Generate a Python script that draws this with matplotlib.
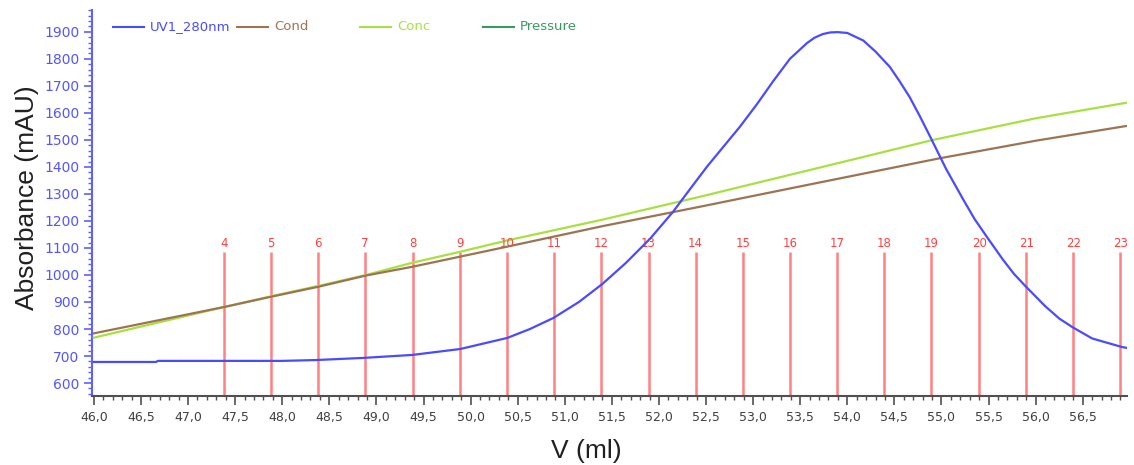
import matplotlib
matplotlib.use("Agg")
import matplotlib.pyplot as plt
from matplotlib.lines import Line2D
from matplotlib.ticker import MultipleLocator, FuncFormatter

# UV trace (ml, mAU)
uv_ml = [46.0, 46.66, 46.68, 47.5, 48.0, 48.35, 48.86, 49.38, 49.89, 50.39, 50.63,
         50.88, 51.15, 51.4, 51.65, 51.91, 52.15, 52.33, 52.51, 52.86, 53.04,
         53.21, 53.39, 53.57, 53.65, 53.74, 53.82, 53.9, 54.0, 54.17, 54.3,
         54.45, 54.55, 54.66, 54.77, 54.88, 55.05, 55.23, 55.35, 55.48, 55.65,
         55.77, 55.88, 56.1, 56.25, 56.39, 56.6, 56.8, 56.92, 56.97]
uv_mau = [678, 678, 682, 682, 682, 685, 693, 704, 726, 767, 800,
          841, 900, 967, 1045, 1136, 1234, 1318, 1401, 1549, 1632,
          1716, 1800, 1858, 1878, 1892, 1898, 1899, 1896, 1868, 1827,
          1771, 1720, 1660, 1588, 1512, 1392, 1280, 1208, 1142, 1058,
          1004, 963, 885, 839, 807, 765, 745, 733, 730]

cond_ml = [46.0, 47.39, 47.89, 48.39, 48.89, 49.39, 49.89, 50.39, 51.39, 52.44,
           53.5, 54.98, 56.0, 56.97]
cond_val = [784, 882, 920, 957, 998, 1031, 1068, 1105, 1180, 1253,
            1328, 1432, 1497, 1552]

conc_ml = [46.0, 47.39, 47.89, 48.39, 48.89, 49.39, 49.89, 50.39, 51.39, 52.44,
           53.5, 54.91, 56.0, 56.97]
conc_val = [768, 882, 922, 960, 1000, 1046, 1086, 1128, 1204, 1290,
            1380, 1500, 1580, 1638]

# fraction marks
frac_num = list(range(4, 24))
frac_ml = [47.38, 47.88, 48.38, 48.88, 49.39, 49.89, 50.39, 50.89, 51.39, 51.89,
           52.39, 52.89, 53.39, 53.89, 54.39, 54.89, 55.40, 55.90, 56.40, 56.90]

legend_names = ["UV1_280nm", "Cond", "Conc", "Pressure"]
legend_colors = ["#4a4aff", "#9c7452", "#a8e040", "#3a9a5e"]

fig = plt.figure(figsize=(11.34, 4.65), dpi=100)
ax = fig.add_axes([92 / 1134, 1 - 396 / 465, (1127 - 92) / 1134, (396 - 10) / 465])

ax.plot(conc_ml, conc_val, color=legend_colors[2], lw=1.6, zorder=3)
ax.plot(cond_ml, cond_val, color=legend_colors[1], lw=1.6, zorder=4)
ax.plot(uv_ml, uv_mau, color=legend_colors[0], lw=1.6, zorder=5)

ymin, ymax = 552, 1981
ax.vlines(frac_ml, ymin, 1085, color="#ff8080", lw=1.8, zorder=2)
for n, x in zip(frac_num, frac_ml):
    ax.text(x, 1115, str(n), color="#ff4040", fontsize=8.5, ha="center", va="center")

ax.set_xlim(45.98, 56.97)
ax.set_ylim(ymin, ymax)

ax.spines["top"].set_visible(False)
ax.spines["right"].set_visible(False)
ax.spines["left"].set_color("#6060ff")
ax.spines["left"].set_linewidth(1.5)
ax.spines["bottom"].set_color("#505050")
ax.spines["bottom"].set_linewidth(1.5)

ax.yaxis.set_major_locator(MultipleLocator(100))
ax.yaxis.set_minor_locator(MultipleLocator(20))
ax.set_yticks(range(600, 2000, 100))
ax.xaxis.set_major_locator(MultipleLocator(0.5))
ax.xaxis.set_minor_locator(MultipleLocator(0.1))
ax.xaxis.set_major_formatter(FuncFormatter(lambda v, p: f"{v:.1f}".replace(".", ",")))

ax.tick_params(axis="y", which="major", length=6, width=1.2, color="#6060ff",
               labelcolor="#5555ff", labelsize=10, pad=3)
ax.tick_params(axis="y", which="minor", length=3, width=1, color="#6060ff")
ax.tick_params(axis="x", which="major", length=6.5, width=1.2, color="#505050",
               labelcolor="#404040", labelsize=9, pad=4)
ax.tick_params(axis="x", which="minor", length=3, width=1, color="#505050")

ax.set_ylabel("Absorbance (mAU)", fontsize=19, family="Liberation Sans", color="#202020")
ax.yaxis.set_label_coords(-0.051, 0.514)
ax.set_xlabel("V (ml)", fontsize=19, family="Liberation Sans", color="#202020")
ax.xaxis.set_label_coords(0.478, -0.112)

# legend strip across the top
leg_x = [113, 237, 360, 483]
for x0, name, c in zip(leg_x, legend_names, legend_colors):
    y = 1 - 27 / 465
    fig.add_artist(Line2D([x0 / 1134, (x0 + 31) / 1134], [y, y], color=c, lw=1.5))
    fig.text((x0 + 37) / 1134, y, name, color=c, fontsize=9.5, va="center", ha="left")

fig.savefig("out.png", dpi=100)
